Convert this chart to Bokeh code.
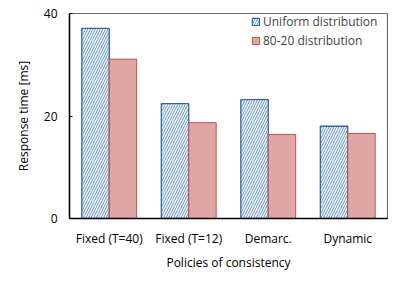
from bokeh.plotting import figure
from bokeh.models import FactorRange, Legend, LegendItem, FixedTicker, ColumnDataSource
from bokeh.transform import dodge
from bokeh.embed import file_html
from bokeh.resources import INLINE

categories = ["Fixed (T=40)", "Fixed (T=12)", "Demarc.", "Dynamic"]
uniform = [37.1, 22.4, 23.2, 18.0]
eighty_twenty = [31.1, 18.7, 16.4, 16.6]
y_ticks = [0, 20, 40]

FONT = "Open Sans"
FS = "12px"
src = ColumnDataSource(dict(cat=categories, u=uniform, e=eighty_twenty))

p = figure(x_range=FactorRange(*categories), y_range=(0, 40), width=388, height=273,
           output_backend="svg", toolbar_location=None,
           min_border_left=69, min_border_top=13, min_border_right=1, min_border_bottom=40)
p.background_fill_color = "white"
p.border_fill_color = "white"
p.outline_line_color = "#6f6f6f"
p.outline_line_width = 1.2
p.grid.visible = False

w = 0.345
r1 = p.vbar(x=dodge("cat", -w / 2, range=p.x_range), top="u", width=w, source=src,
            fill_color="white", line_color="#3465a4", line_width=1.3,
            hatch_pattern="/", hatch_color="#5b8fd0", hatch_scale=5, hatch_weight=1)
r2 = p.vbar(x=dodge("cat", w / 2, range=p.x_range), top="e", width=w, source=src,
            fill_color="#e0a6a4", line_color="#c0504d", line_width=1)

legend = Legend(items=[LegendItem(label="Uniform distribution", renderers=[r1]),
                       LegendItem(label="80-20 distribution", renderers=[r2])],
                location="top_right", margin=0, background_fill_alpha=0, border_line_color=None,
                glyph_width=9, glyph_height=9, label_text_font=FONT,
                label_text_font_size=FS, spacing=2, padding=2, label_standoff=3,
                label_height=16, label_width=124)
p.add_layout(legend, "center")

p.xaxis.axis_label = "Policies of consistency"
p.yaxis.axis_label = "Response time [ms]"
p.yaxis.ticker = FixedTicker(ticks=y_ticks)
for ax in (p.xaxis[0], p.yaxis[0]):
    ax.axis_line_color = "black"
    ax.axis_line_width = 1.5
    ax.minor_tick_line_color = None
    ax.major_label_text_font = FONT
    ax.major_label_text_font_size = FS
    ax.major_label_text_color = "black"
    ax.axis_label_text_font = FONT
    ax.axis_label_text_font_size = FS
    ax.axis_label_text_font_style = "normal"
    ax.axis_label_text_color = "black"
p.xaxis.major_tick_line_color = None
p.yaxis.major_tick_line_color = "black"
p.yaxis.major_tick_in = 3
p.yaxis.major_tick_out = 0
p.xaxis.major_label_standoff = 5
p.xaxis.axis_label_standoff = 4
p.yaxis.major_label_standoff = 12
p.yaxis.axis_label_standoff = 9

open("out.html", "w").write(file_html(p, INLINE))
